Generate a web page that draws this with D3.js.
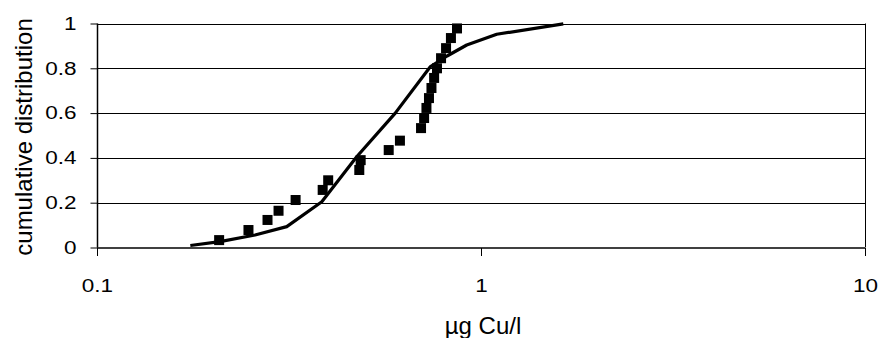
<!DOCTYPE html>
<html>
<head>
<meta charset="utf-8">
<script src="https://cdn.jsdelivr.net/npm/d3@7"></script>
<style>
	body { margin: 0; background: #fff; }
	svg { display: block; }
	text { font-family: 'Liberation Sans', Arial, sans-serif; fill: #000; }
</style>
</head>
<body>
<div id="chart"></div>
<script>

// measured concentrations (ug Cu/l) and their plotting positions
var obsX = [0.208, 0.248, 0.278, 0.297, 0.329, 0.387, 0.400, 0.482, 0.486, 0.575, 0.615,
	0.698, 0.711, 0.721, 0.732, 0.743, 0.755, 0.768, 0.787, 0.811, 0.835, 0.866];
var obsY = [0.033, 0.078, 0.123, 0.164, 0.212, 0.257, 0.300, 0.346, 0.390, 0.435, 0.477,
	0.533, 0.578, 0.623, 0.667, 0.712, 0.757, 0.800, 0.845, 0.890, 0.935, 0.978];

// fitted distribution
var fitX = [0.175, 0.209, 0.258, 0.312, 0.385, 0.474, 0.598, 0.737, 0.816, 0.918, 1.099, 1.638];
var fitY = [0.009, 0.026, 0.056, 0.093, 0.204, 0.404, 0.600, 0.806, 0.855, 0.904, 0.952, 0.998];

var xTicks = [0.1, 1, 10];
var yTicks = [0, 0.2, 0.4, 0.6, 0.8, 1];

var W = 878;
var H = 338;
var pl = 97, pr = 865, pt = 23.5, pb = 247.5;
var stretch = 1.25; // tick labels are wider than they are tall in the original

var svg = d3.select('#chart').append('svg').attr('width', W).attr('height', H);

var x = d3.scaleLog().domain([0.1, 10]).range([pl, pr]);
var y = d3.scaleLinear().domain([0, 1]).range([pb, pt]);

// gridlines
svg.append('g').selectAll('line').data(yTicks.slice(1)).enter().append('line')
	.attr('x1', pl).attr('x2', pr)
	.attr('y1', function(d) { return Math.round(y(d)) + 0.5; })
	.attr('y2', function(d) { return Math.round(y(d)) + 0.5; })
	.style('stroke', '#000').style('stroke-width', 1);

// right border
svg.append('line')
	.attr('x1', pr + 0.5).attr('x2', pr + 0.5)
	.attr('y1', pt).attr('y2', pb)
	.style('stroke', '#000');

// axes
var yAxis = d3.axisLeft(y).tickValues(yTicks).tickSize(7).tickPadding(9)
	.tickFormat(function(d) { return d; });
var xAxis = d3.axisBottom(x).tickValues(xTicks).tickSize(8).tickPadding(23)
	.tickFormat(function(d) { return d; });

var gy = svg.append('g').attr('transform', 'translate(' + (pl + 0.5) + ',0)').call(yAxis);
var gx = svg.append('g').attr('transform', 'translate(0,' + (pb + 0.5) + ')').call(xAxis);

[gx, gy].forEach(function(g) {
	g.attr('font-size', null).attr('font-family', null);
	g.select('.domain').style('stroke', '#000').style('stroke-width', 1.5);
	g.selectAll('.tick line').style('stroke', '#000');
	g.selectAll('.tick text').style('font-size', '18px').attr('fill', '#000')
		.attr('transform', 'scale(' + stretch + ',1)');
});
gy.selectAll('.tick text').attr('x', -16 / stretch - 4);
gy.select('.domain').attr('d', 'M0,' + pt + 'V' + pb);
gx.select('.domain').attr('d', 'M' + pl + ',0H' + pr);

// fitted curve
var pts = fitX.map(function(v, i) { return [v, fitY[i]]; });
var line = d3.line().x(function(d) { return x(d[0]); }).y(function(d) { return y(d[1]); });
svg.append('path').datum(pts)
	.attr('d', line)
	.style('fill', 'none').style('stroke', '#000').style('stroke-width', 3.2)
	.style('stroke-linejoin', 'round');

// observations
var s = 10;
svg.append('g').selectAll('rect').data(obsX).enter().append('rect')
	.attr('x', function(d) { return x(d) - s / 2; })
	.attr('y', function(d, i) { return y(obsY[i]) - s / 2; })
	.attr('width', s).attr('height', s)
	.style('fill', '#000');

// axis titles
svg.append('text')
	.attr('x', (pl + pr) / 2 + 2).attr('y', 334)
	.attr('text-anchor', 'middle')
	.style('font-size', '24px')
	.text('µg Cu/l');

svg.append('text')
	.attr('transform', 'translate(32,137) rotate(-90)')
	.attr('text-anchor', 'middle')
	.style('font-size', '24px')
	.text('cumulative distribution');

</script>
</body>
</html>
